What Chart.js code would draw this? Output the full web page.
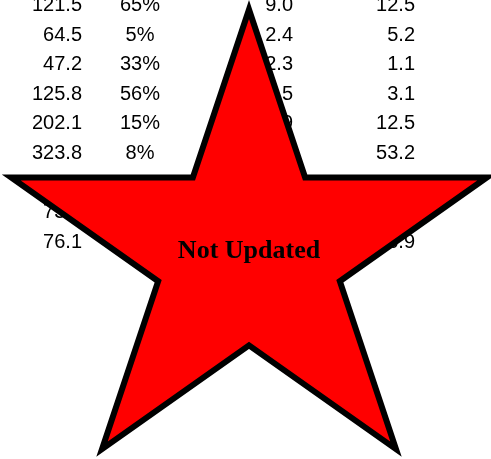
<!DOCTYPE html>
<html>
<head>
<meta charset="utf-8">
<script src="https://cdn.jsdelivr.net/npm/chart.js@4"></script>
<style>
  html, body { margin: 0; padding: 0; background: #fff; }
  canvas { display: block; }
</style>
</head>
<body>
<canvas id="chart" width="491" height="459"></canvas>
<script>
// table rows (top one is cut by the top edge)
const rows = [0, 1, 2, 3, 4, 5, 6, 7, 8];
const totals = [121.5, 64.5, 47.2, 125.8, 202.1, 323.8, 221.6, 73.4, 76.1];
const shares = [65, 5, 33, 56, 15, 8, 12, 28, 40];
const rates = [9.0, 2.4, 2.3, 4.5, 8.9, 6.1, 3.7, 2.8, 4.2];
const changes = [12.5, 5.2, 1.1, 3.1, 12.5, 53.2, 40.3, 11.6, 6.9];
const stampText = "Not Updated";

// column anchors (x units) and alignment
const columns = [
  { values: totals, fmt: v => v.toFixed(1), x: 82, align: "right" },
  { values: shares, fmt: v => v + "%", x: 140, align: "center" },
  { values: rates, fmt: v => v.toFixed(1), x: 293, align: "right" },
  { values: changes, fmt: v => v.toFixed(1), x: 415, align: "right" }
];

const cellText = {
  id: "cellText",
  afterDatasetsDraw(chart) {
    const ctx = chart.ctx;
    ctx.save();
    ctx.fillStyle = "#000";
    ctx.font = "20px 'Liberation Sans', Arial, sans-serif";
    ctx.textBaseline = "alphabetic";
    chart.data.datasets.forEach((ds, i) => {
      const col = columns[i];
      ctx.textAlign = col.align;
      chart.getDatasetMeta(i).data.forEach((pt, j) => {
        ctx.fillText(col.fmt(col.values[j]), pt.x, pt.y);
      });
    });
    ctx.restore();
  }
};

const stamp = {
  id: "stamp",
  afterDraw(chart) {
    const { ctx, scales: { x, y } } = chart;
    const cx = x.getPixelForValue(249);
    const cy = y.getPixelForValue(8.16);
    const R = 250, k = 0.972, r = R * 0.382;
    ctx.save();
    ctx.beginPath();
    for (let i = 0; i < 10; i++) {
      const a = i * Math.PI / 5;
      const rad = i % 2 ? r : R;
      const px = cx + rad * Math.sin(a);
      const py = cy - rad * k * Math.cos(a);
      i ? ctx.lineTo(px, py) : ctx.moveTo(px, py);
    }
    ctx.closePath();
    ctx.fillStyle = "#ff0000";
    ctx.fill();
    ctx.lineWidth = 6;
    ctx.lineJoin = "miter";
    ctx.miterLimit = 10;
    ctx.strokeStyle = "#000";
    ctx.stroke();
    ctx.fillStyle = "#000";
    ctx.font = "bold 26px 'Liberation Serif', 'Times New Roman', serif";
    ctx.textAlign = "center";
    ctx.textBaseline = "alphabetic";
    ctx.fillText(stampText, cx, y.getPixelForValue(8.35));
    ctx.restore();
  }
};

new Chart(document.getElementById("chart"), {
  type: "scatter",
  data: {
    datasets: columns.map(col => ({
      data: rows.map(r => ({ x: col.x, y: r })),
      pointRadius: 0,
      pointHoverRadius: 0
    }))
  },
  options: {
    responsive: false,
    animation: false,
    events: [],
    layout: { padding: 0 },
    plugins: { legend: { display: false }, tooltip: { enabled: false } },
    scales: {
      x: { type: "linear", display: false, min: 0, max: 491 },
      y: { type: "linear", display: false, reverse: true, min: -0.3716, max: 15.135 }
    }
  },
  plugins: [cellText, stamp]
});
</script>
</body>
</html>
